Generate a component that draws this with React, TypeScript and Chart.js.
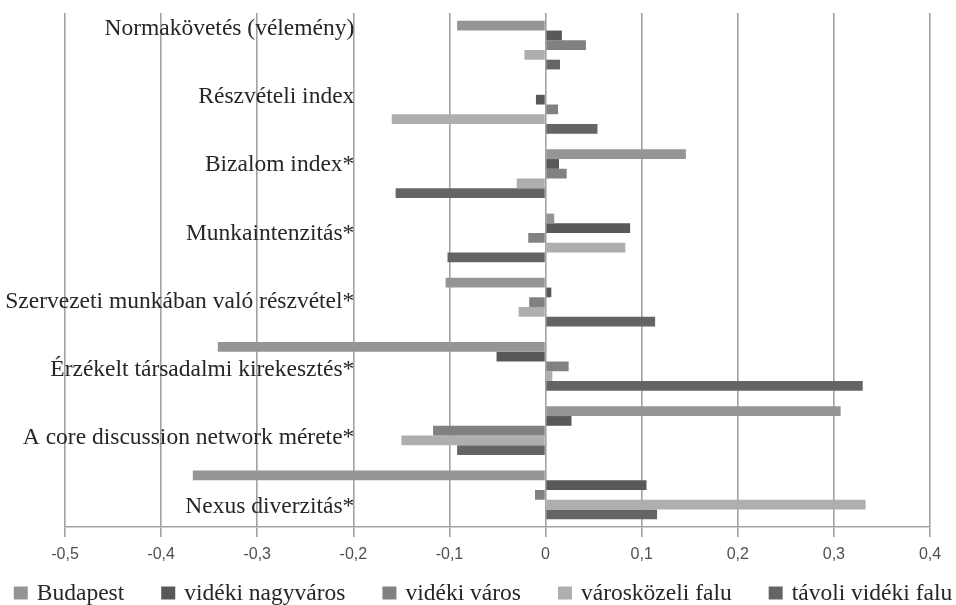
import React, { useEffect, useRef } from 'react';
import { Chart, registerables } from 'chart.js';

Chart.register(...registerables);

const categories = [
  'Normakövetés (vélemény)',
  'Részvételi index',
  'Bizalom index*',
  'Munkaintenzitás*',
  'Szervezeti munkában való részvétel*',
  'Érzékelt társadalmi kirekesztés*',
  'A core discussion network mérete*',
  'Nexus diverzitás*',
];

const seriesNames = ['Budapest', 'vidéki nagyváros', 'vidéki város', 'városközeli falu', 'távoli vidéki falu'];

const budapest = [-0.092, 0, 0.146, 0.009, -0.104, -0.341, 0.307, -0.367];
const videkiNagyvaros = [0.017, -0.01, 0.014, 0.088, 0.006, -0.051, 0.027, 0.105];
const videkiVaros = [0.042, 0.013, 0.022, -0.018, -0.017, 0.024, -0.117, -0.011];
const varoskozeliFalu = [-0.022, -0.16, -0.03, 0.083, -0.028, 0.007, -0.15, 0.333];
const taviliVidekiFalu = [0.015, 0.054, -0.156, -0.102, 0.114, 0.33, -0.092, 0.116];

const seriesColors = ['#959597', '#58585a', '#818184', '#aeaeb0', '#646466'];

const xMin = -0.5;
const xMax = 0.4;
const xStep = 0.1;

const fmtTick = (v: number) => {
  const r = Math.round(v * 10) / 10;
  if (r === 0) return '0';
  return r.toFixed(1).replace('.', ',');
};

const SERIF = '23.5px "Liberation Serif"';
const TEXT_COLOR = '#262626';

const categoryLabelPlugin = {
  id: 'categoryLabels',
  afterDatasetsDraw(chart: any) {
    const { ctx, chartArea, scales } = chart;
    const xRight = scales.x.getPixelForValue(-0.2) + 1;
    const h = chartArea.bottom - chartArea.top;
    const first = h * 0.0428;
    const step = h * 0.13277;
    ctx.save();
    ctx.font = SERIF;
    ctx.fillStyle = TEXT_COLOR;
    ctx.textAlign = 'right';
    ctx.textBaseline = 'alphabetic';
    categories.forEach((c, i) => {
      ctx.fillText(c, xRight, chartArea.top + first + i * step);
    });
    ctx.restore();
  },
};

const bottomLegendPlugin = {
  id: 'bottomLegend',
  afterDraw(chart: any) {
    const { ctx } = chart;
    const items = chart.data.datasets.map((d: any) => ({ text: d.label, color: d.backgroundColor }));
    ctx.save();
    ctx.font = SERIF;
    const boxW = 14;
    const boxH = 13;
    const gapText = 9;
    const gapItem = 37;
    const widths = items.map((it: any) => boxW + gapText + ctx.measureText(it.text).width);
    const total = widths.reduce((a: number, b: number) => a + b, 0) + gapItem * (items.length - 1);
    let x = (chart.width - total) / 2 + 5;
    const cy = chart.height - 12;
    items.forEach((it: any, i: number) => {
      ctx.fillStyle = it.color;
      ctx.fillRect(x, cy - boxH / 2, boxW, boxH);
      ctx.fillStyle = TEXT_COLOR;
      ctx.textAlign = 'left';
      ctx.textBaseline = 'alphabetic';
      ctx.fillText(it.text, x + boxW + gapText, cy + 7);
      x += widths[i] + gapItem;
    });
    ctx.restore();
  },
};

export default function App() {
  const canvasRef = useRef<HTMLCanvasElement | null>(null);

  useEffect(() => {
    if (!canvasRef.current) return;
    const seriesData = [budapest, videkiNagyvaros, videkiVaros, varoskozeliFalu, taviliVidekiFalu];
    const gridColor = '#a2a2a2';
    const chart = new Chart(canvasRef.current, {
      type: 'bar',
      data: {
        labels: categories,
        datasets: seriesNames.map((name, i) => ({
          label: name,
          data: seriesData[i],
          backgroundColor: seriesColors[i],
          borderWidth: 0,
          categoryPercentage: 0.756,
          barPercentage: 1,
        })),
      },
      options: {
        indexAxis: 'y',
        animation: false,
        responsive: true,
        maintainAspectRatio: false,
        layout: { padding: { top: 13, bottom: 40, left: 0, right: 0 } },
        plugins: {
          tooltip: { enabled: false },
          legend: { display: false },
        },
        scales: {
          x: {
            type: 'linear',
            min: xMin,
            max: xMax,
            afterFit: (s: any) => {
              s.height = 38;
            },
            ticks: {
              stepSize: xStep,
              autoSkip: false,
              maxRotation: 0,
              padding: 8,
              color: '#505050',
              font: { family: '"Liberation Sans"', size: 16 },
              callback: (v: any) => fmtTick(Number(v)),
            },
            grid: {
              color: gridColor,
              lineWidth: 1.6,
              drawTicks: true,
              tickLength: 10,
              tickColor: gridColor,
            },
            border: { display: true, color: gridColor, width: 1.6 },
          },
          y: {
            type: 'category',
            afterFit: (s: any) => {
              s.width = 65;
            },
            ticks: { display: false },
            grid: { display: false },
            border: { display: false },
          },
          y2: {
            type: 'linear',
            position: 'right',
            afterFit: (s: any) => {
              s.width = 26;
            },
            ticks: { display: false },
            grid: { display: false },
            border: { display: false },
          },
        },
      },
      plugins: [categoryLabelPlugin, bottomLegendPlugin],
    } as any);
    return () => chart.destroy();
  }, []);

  return (
    <div style={{ position: 'absolute', left: 0, top: 0, width: 956, height: 605, background: '#ffffff' }}>
      <canvas ref={canvasRef} />
    </div>
  );
}
